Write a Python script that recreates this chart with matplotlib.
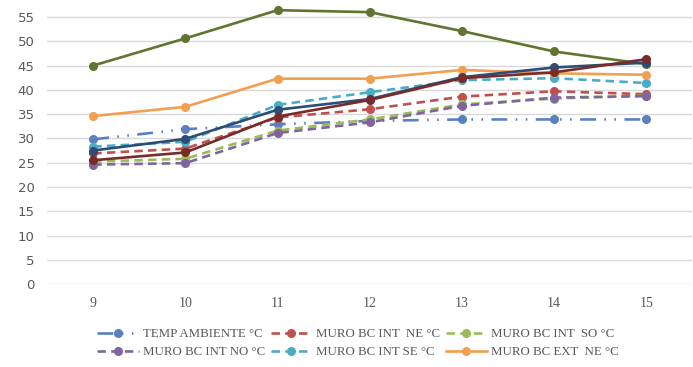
import matplotlib
matplotlib.use("Agg")
import matplotlib.pyplot as plt

hours = [9, 10, 11, 12, 13, 14, 15]

temp_ambiente = [29.8, 31.9, 32.9, 33.6, 33.9, 33.9, 33.9]
muro_int_ne = [26.9, 27.9, 34.3, 36.0, 38.6, 39.7, 39.1]
muro_int_so = [25.2, 25.8, 31.6, 33.9, 37.0, 38.2, 38.8]
muro_int_no = [24.6, 24.9, 31.1, 33.3, 36.7, 38.4, 38.7]
muro_int_se = [28.3, 29.3, 36.9, 39.5, 42.0, 42.4, 41.4]
muro_ext_ne = [34.6, 36.5, 42.3, 42.3, 44.1, 43.4, 43.1]
# three more series drawn in the chart but cut off from its legend
serie_7 = [45.0, 50.6, 56.4, 56.0, 52.1, 47.9, 45.3]
serie_8 = [27.5, 29.9, 35.9, 38.1, 42.6, 44.6, 45.6]
serie_9 = [25.5, 27.1, 34.5, 37.9, 42.4, 43.6, 46.3]

labels = ["TEMP AMBIENTE °C", "MURO BC INT  NE °C", "MURO BC INT  SO °C",
          "MURO BC INT NO °C", "MURO BC INT SE °C", "MURO BC EXT  NE °C"]
y_ticks = list(range(0, 60, 5))

dashdotdot = (0, (6, 3.2, 0.6, 3.2, 0.6, 3.2))
dashed = (0, (3.2, 2))

series = [
    (temp_ambiente, "#5B80BF", dashdotdot, labels[0]),
    (muro_int_ne, "#C0504D", dashed, labels[1]),
    (muro_int_so, "#9BBB59", dashed, labels[2]),
    (muro_int_no, "#8064A2", dashed, labels[3]),
    (muro_int_se, "#4BACC6", dashed, labels[4]),
    (muro_ext_ne, "#F0A050", "-", labels[5]),
    (serie_7, "#5F7530", "-", None),
    (serie_8, "#2C4D75", "-", None),
    (serie_9, "#772C2A", "-", None),
]

fig = plt.figure(figsize=(6.93, 3.67), dpi=100)
ax = fig.add_axes([0.068, 0.226, 0.931, 0.774])

for values, color, ls, lab in series:
    ax.plot(hours, values, color=color, linestyle=ls, linewidth=1.9,
            marker="o", markersize=5.5, label=lab)

ax.set_xlim(8.5, 15.5)
ax.set_ylim(0, 58.5)
ax.set_yticks(y_ticks)
ax.set_xticks(hours)
ax.grid(axis="y", color="#D9D9D9", linewidth=1)
ax.set_axisbelow(True)
for s in ax.spines.values():
    s.set_visible(False)
ax.tick_params(length=0)
ax.tick_params(axis="y", pad=9, labelsize=9.5, labelcolor="#595959")
ax.tick_params(axis="x", pad=9, labelsize=10, labelcolor="#595959")
for t in ax.get_xticklabels():
    t.set_family("Liberation Serif")

# legend is filled row by row in the original
handles, labs = ax.get_legend_handles_labels()
order = [0, 3, 1, 4, 2, 5]
fig.legend([handles[i] for i in order], [labs[i] for i in order],
           loc="center", bbox_to_anchor=(0.517, 0.065),
           ncol=3, frameon=False, handlelength=3.2, handletextpad=0.35,
           columnspacing=0.4, labelspacing=0.45,
           prop={"family": "Liberation Serif", "size": 9.3},
           labelcolor="#595959")

fig.savefig("out.png", dpi=100)
